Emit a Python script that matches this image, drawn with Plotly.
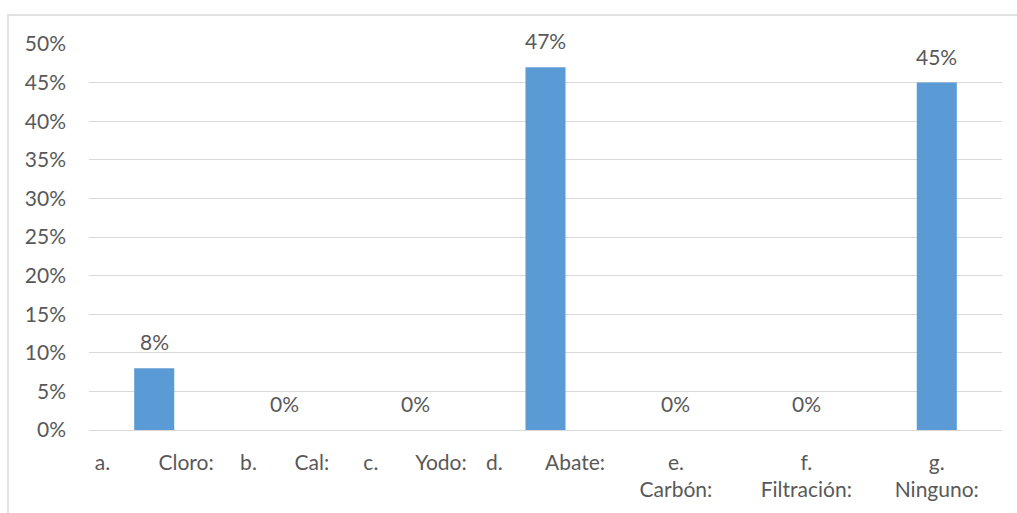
import plotly.graph_objects as go

NB = "\u00a0"
categories = ["a", "b", "c", "d", "e", "f", "g"]
tick_labels = [
    "a." + NB * 9 + "Cloro:",
    "b." + NB * 7 + "Cal:",
    "c." + NB * 7 + "Yodo:",
    "d." + NB * 8 + "Abate:",
    "e.<br>Carbón:",
    "f.<br>Filtración:",
    "g.<br>Ninguno:",
]
values = [8, 0, 0, 47, 0, 0, 45]
y_ticks = [0, 5, 10, 15, 20, 25, 30, 35, 40, 45, 50]

FONT = "Lato, 'Open Sans', sans-serif"
TXT = "#595959"
GRID = "#D9D9D9"

fig = go.Figure()
fig.add_trace(go.Bar(
    x=categories, y=values,
    marker=dict(color="#5B9BD5", line=dict(width=0)),
    hoverinfo="skip",
))

for c, v in zip(categories, values):
    fig.add_annotation(
        x=c, y=v, text=f"{v}%", showarrow=False,
        xref="x", yref="y", yanchor="bottom", yshift=12,
        font=dict(family=FONT, size=21, color=TXT),
    )

L, R, T, B = 89, 15, 44, 83
W, H = 1017, 513
pw, ph = W - L - R, H - T - B
fig.add_shape(
    type="rect", xref="paper", yref="paper",
    x0=(8 - L) / pw, x1=(W + 10 - L) / pw,
    y0=-(H + 10 - (T + ph)) / ph, y1=(T + ph - 15) / ph,
    line=dict(color=GRID, width=1.5), fillcolor="rgba(0,0,0,0)", layer="below",
)

fig.update_layout(
    width=W, height=H,
    margin=dict(l=L, r=R, t=T, b=B),
    paper_bgcolor="white", plot_bgcolor="white",
    bargap=0.693,
    showlegend=False,
    font=dict(family=FONT, size=21, color=TXT),
)
fig.update_xaxes(
    tickvals=categories, ticktext=tick_labels,
    showgrid=False, showline=False, zeroline=False,
    ticks="", ticklabelstandoff=18,
    tickfont=dict(family=FONT, size=21, color=TXT),
)
fig.update_yaxes(
    range=[0, 50], tickvals=y_ticks, ticktext=[f"{t}%" for t in y_ticks],
    showgrid=True, gridcolor=GRID, gridwidth=1.3,
    zeroline=True, zerolinecolor=GRID, zerolinewidth=1.3,
    showline=False, ticks="", ticklabelstandoff=22,
    tickfont=dict(family=FONT, size=21, color=TXT),
)

fig.write_html("out.html")
